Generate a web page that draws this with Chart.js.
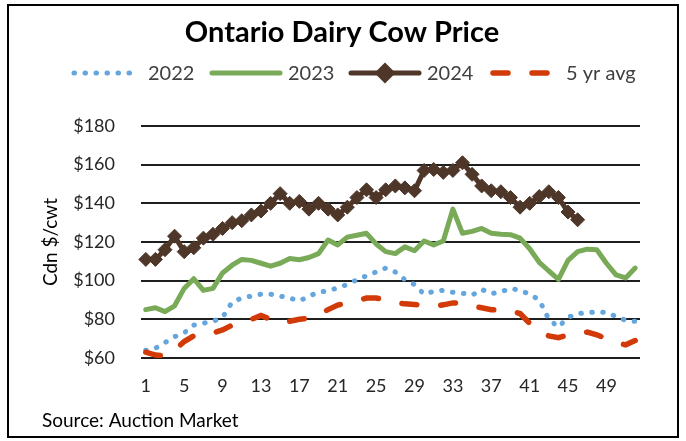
<!DOCTYPE html>
<html>
<head>
<meta charset="utf-8">
<title>Ontario Dairy Cow Price</title>
<script src="https://cdn.jsdelivr.net/npm/chart.js@4.4.1/dist/chart.umd.min.js"></script>
<style>
  html, body { margin: 0; padding: 0; background: #fff; }
  #wrap { position: relative; width: 686px; height: 441px; }
</style>
</head>
<body>
<div id="wrap"><canvas id="cowChart" width="686" height="441"></canvas></div>
<script>
const chartTitle = "Ontario Dairy Cow Price";
const yTitle = "Cdn $/cwt";
const sourceNote = "Source: Auction Market";

// week numbers
const weeks = [1, 2, 3, 4, 5, 6, 7, 8, 9, 10, 11, 12, 13, 14, 15, 16, 17, 18, 19, 20,
  21, 22, 23, 24, 25, 26, 27, 28, 29, 30, 31, 32, 33, 34, 35, 36, 37, 38, 39, 40,
  41, 42, 43, 44, 45, 46, 47, 48, 49, 50, 51, 52];

const seriesNames = ["2022", "2023", "2024", "5 yr avg"];

// $/cwt
const price2022 = [64, 65, 68, 71, 73, 77, 78, 79, 81, 89, 91, 92, 93, 93, 92, 91, 89.5, 92, 94, 94.7,
  96.3, 98, 100.5, 102.5, 104.5, 106.5, 104.5, 100.5, 98, 93, 94.5, 95, 94, 93.5, 92.5, 95.5, 93.3, 94.2, 96, 95,
  93, 90, 80, 76, 81, 83, 83.3, 84, 83.5, 81.5, 79.5, 79];
const price2023 = [85, 86, 84, 87, 96, 101, 95, 96, 104, 108, 111, 110.5, 109, 107.5, 109, 111.5, 110.8, 112, 114, 121,
  118.5, 122.5, 123.5, 124.5, 119, 115, 114, 117.5, 115.5, 120.5, 118.5, 120.5, 137, 124.5, 125.5, 127, 124.5, 124, 123.8, 122,
  116.5, 109.5, 105, 100.7, 110.5, 115, 116.3, 116, 109, 103, 101.4, 106.5];
const price2024 = [111, 111, 116, 123, 115, 117, 122, 124, 127, 130, 131, 134, 136, 140, 145, 140, 141, 137, 140, 137,
  134, 138, 143, 147, 143, 147, 149, 148, 146.5, 157, 157.5, 156, 157, 161, 155, 149, 146.5, 146, 143, 138,
  140, 143.5, 146, 143, 135.5, 131.5];
const avg5yr = [63, 61.5, 61, 64, 68.5, 71.5, 72, 73, 74.5, 77, 78.5, 80, 82, 80, 78, 79, 80, 80.5, 82.5, 85,
  87.4, 88.4, 89.6, 91, 91, 90, 88.5, 88, 87.7, 87.3, 86.7, 87.5, 88.5, 88.3, 86.8, 86, 85, 84.8, 84.4, 83,
  78, 74.5, 71.4, 70.5, 72, 73, 73.4, 72, 70, 67.9, 66.8, 69];

const yMin = 60;
const yMax = 180;
const yStep = 20;

const FONT = "Lato, 'Noto Sans', sans-serif";

// title, legend, source line and the box round the chart
const decorations = {
  id: "decorations",
  afterDraw(chart) {
    const ctx = chart.ctx;
    ctx.save();

    ctx.strokeStyle = "#000";
    ctx.lineWidth = 2;
    ctx.strokeRect(8, 5, 670, 432);

    ctx.fillStyle = "#000";
    ctx.font = "bold 29px " + FONT;
    ctx.textAlign = "center";
    ctx.textBaseline = "middle";
    ctx.fillText(chartTitle, 342, 33);

    // [line start, line end, text x]
    const legendPos = [[74, 134, 148], [212, 280, 288], [351, 419, 427], [493, 552, 566]];
    const ly = 73;
    chart.data.datasets.forEach((ds, i) => {
      const [x0, x1, tx] = legendPos[i];
      ctx.beginPath();
      ctx.setLineDash(ds.borderDash || []);
      ctx.lineCap = ds.borderCapStyle || "round";
      ctx.strokeStyle = ds.borderColor;
      ctx.lineWidth = ds.borderWidth;
      ctx.moveTo(x0, ly);
      ctx.lineTo(x1, ly);
      ctx.stroke();
      ctx.setLineDash([]);
      if (ds.pointRadius > 0) {
        ctx.fillStyle = ds.pointBackgroundColor;
        ctx.strokeStyle = ds.borderColor;
        Chart.helpers.drawPoint(ctx, { pointStyle: ds.pointStyle, radius: ds.pointRadius, borderWidth: 1 }, (x0 + x1) / 2, ly);
      }
      ctx.fillStyle = "#404040";
      ctx.font = "20px " + FONT;
      ctx.textAlign = "left";
      ctx.fillText(ds.label, tx, ly + 1);
    });

    ctx.fillStyle = "#000";
    ctx.font = "19px " + FONT;
    ctx.textAlign = "left";
    ctx.fillText(sourceNote, 42, 421);

    ctx.restore();
  }
};

new Chart(document.getElementById("cowChart"), {
  type: "line",
  data: {
    labels: weeks,
    datasets: [
      {
        label: seriesNames[0],
        data: price2022,
        borderColor: "#64a6dd",
        borderWidth: 5,
        borderDash: [0.5, 10.5],
        borderCapStyle: "round",
        pointRadius: 0,
        tension: 0,
        order: 4
      },
      {
        label: seriesNames[1],
        data: price2023,
        borderColor: "#78aa58",
        borderWidth: 5,
        borderCapStyle: "round",
        borderJoinStyle: "round",
        pointRadius: 0,
        tension: 0,
        order: 3
      },
      {
        label: seriesNames[2],
        data: price2024,
        borderColor: "#4e3629",
        borderWidth: 5,
        borderCapStyle: "round",
        pointStyle: "rectRot",
        pointRadius: 7,
        pointBorderWidth: 1,
        pointBackgroundColor: "#4e3629",
        pointBorderColor: "#4e3629",
        tension: 0,
        order: 2
      },
      {
        label: seriesNames[3],
        data: avg5yr,
        borderColor: "#d23a08",
        borderWidth: 5.5,
        borderDash: [15, 24],
        borderCapStyle: "round",
        pointRadius: 0,
        tension: 0,
        order: 1
      }
    ]
  },
  options: {
    responsive: false,
    animation: false,
    devicePixelRatio: 1,
    layout: { padding: { top: 126, right: 46, left: 0, bottom: 0 } },
    plugins: {
      legend: { display: false },
      title: { display: false },
      tooltip: { enabled: false }
    },
    scales: {
      x: {
        offset: true,
        grid: { display: false, drawTicks: false },
        border: { display: false },
        ticks: {
          autoSkip: false,
          maxRotation: 0,
          padding: 17,
          color: "#262626",
          font: { family: FONT, size: 18 },
          callback: function (value, index) {
            return index % 4 === 0 ? this.getLabelForValue(value) : "";
          }
        },
        afterFit(scale) { scale.height = 83; }
      },
      y: {
        min: yMin,
        max: yMax,
        grid: { color: "#1e1e1e", lineWidth: 2, drawTicks: false },
        border: { display: false },
        ticks: {
          stepSize: yStep,
          padding: 26,
          color: "#262626",
          font: { family: FONT, size: 18 },
          callback: (v) => "$" + v
        },
        title: {
          display: true,
          text: yTitle,
          color: "#000",
          font: { family: FONT, size: 19 },
          padding: { top: 39 }
        },
        afterFit(scale) { scale.width = 141; }
      }
    }
  },
  plugins: [decorations]
});
</script>
</body>
</html>
